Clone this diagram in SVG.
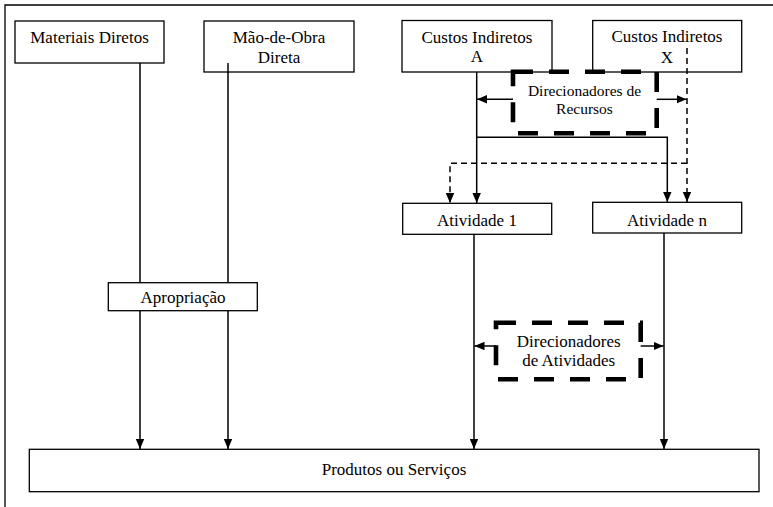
<svg xmlns="http://www.w3.org/2000/svg" width="773" height="507" viewBox="0 0 773 507">
  <style>
    .box { fill: #fff; stroke: #000; stroke-width: 1.3; }
    .lbl { font-family: "Liberation Serif", "Times New Roman", serif; font-size: 17px; fill: #000; text-anchor: middle; }
    .drv { font-family: "Liberation Serif", "Times New Roman", serif; fill: #000; text-anchor: middle; }
    .wire { fill: none; stroke: #000; stroke-width: 1.5; }
    .dash { fill: none; stroke: #000; stroke-width: 1.5; stroke-dasharray: 6 4; }
    .driver { fill: none; stroke: #000; stroke-width: 4.6; stroke-dasharray: 20 16; }
  </style>
  <defs>
    <marker id="arrow" markerUnits="userSpaceOnUse" markerWidth="11" markerHeight="9" refX="10" refY="4.2" orient="auto">
      <path d="M0,0 L10,4.2 L0,8.4 z" fill="#000"/>
    </marker>
  </defs>

  <rect width="773" height="507" fill="#fff"/>

  <!-- outer frame (top and left edges) -->
  <path d="M5,507 V5 H773" fill="none" stroke="#000" stroke-width="1.3"/>

  <!-- connectors -->
  <g id="connectors">
    <line class="wire" x1="140" y1="63" x2="140" y2="449" marker-end="url(#arrow)"/>
    <line class="wire" x1="228" y1="63" x2="228" y2="449" marker-end="url(#arrow)"/>
    <line class="wire" x1="476.7" y1="72" x2="476.7" y2="203" marker-end="url(#arrow)"/>
    <path class="wire" d="M476.7,137.3 H667.3 V202" marker-end="url(#arrow)"/>
    <line class="dash" x1="687" y1="48" x2="687" y2="202" marker-end="url(#arrow)"/>
    <path class="dash" d="M687,163.3 H450 V203" marker-end="url(#arrow)"/>
    <line class="wire" x1="474" y1="234" x2="474" y2="449" marker-end="url(#arrow)"/>
    <line class="wire" x1="664" y1="233" x2="664" y2="449" marker-end="url(#arrow)"/>
    <!-- driver pointers -->
    <line class="wire" x1="513" y1="99.3" x2="477" y2="99.3" marker-end="url(#arrow)"/>
    <line class="wire" x1="656.7" y1="99.3" x2="686.5" y2="99.3" marker-end="url(#arrow)"/>
    <line class="wire" x1="496" y1="346" x2="474.5" y2="346" marker-end="url(#arrow)"/>
    <line class="wire" x1="640.7" y1="346" x2="663.5" y2="346" marker-end="url(#arrow)"/>
  </g>

  <g id="materiais">
    <rect class="box" x="15" y="21" width="149" height="42"/>
    <text class="lbl" x="89.5" y="43">Materiais Diretos</text>
  </g>

  <g id="mao-de-obra">
    <rect class="box" x="204" y="21" width="150" height="51"/>
    <text class="lbl" x="279" y="43">Mão-de-Obra</text>
    <text class="lbl" x="279" y="63">Direta</text>
  </g>
  <!-- labour line continues above the box bottom edge -->
  <line x1="228" y1="63" x2="228" y2="73" stroke="#000" stroke-width="1.5"/>

  <g id="custos-a">
    <rect class="box" x="402" y="20.5" width="150" height="51.5"/>
    <text class="lbl" x="477" y="42.5">Custos Indiretos</text>
    <text class="lbl" x="477" y="62">A</text>
  </g>

  <g id="custos-x">
    <rect class="box" x="592.7" y="20.5" width="149" height="51.5"/>
    <text class="lbl" x="667" y="42">Custos Indiretos</text>
    <text class="lbl" x="667" y="63">X</text>
    <line class="dash" x1="687" y1="48" x2="687" y2="72"/>
  </g>

  <g id="direcionadores-recursos">
    <rect class="driver" x="513" y="71.7" width="143.7" height="61.6"/>
    <text class="drv" x="584.5" y="96" font-size="15.5">Direcionadores de</text>
    <text class="drv" x="584.5" y="114" font-size="15.5">Recursos</text>
  </g>

  <g id="atividade-1">
    <rect class="box" x="402.7" y="203.3" width="149" height="31"/>
    <text class="lbl" x="477" y="226">Atividade 1</text>
  </g>

  <g id="atividade-n">
    <rect class="box" x="592.7" y="202.3" width="149" height="30.7"/>
    <text class="lbl" x="667" y="226">Atividade n</text>
  </g>

  <g id="apropriacao">
    <rect class="box" x="108.3" y="282.7" width="149" height="28"/>
    <text class="lbl" x="183" y="303">Apropriação</text>
  </g>

  <g id="direcionadores-atividades">
    <rect class="driver" x="496" y="322.7" width="144.7" height="56.6"/>
    <text class="drv" x="568.7" y="346.7" font-size="17">Direcionadores</text>
    <text class="drv" x="568.7" y="365.5" font-size="17">de Atividades</text>
  </g>

  <g id="produtos">
    <rect class="box" x="29.3" y="449.3" width="729.7" height="42.4"/>
    <text class="lbl" x="394" y="475">Produtos ou Serviços</text>
  </g>
</svg>
